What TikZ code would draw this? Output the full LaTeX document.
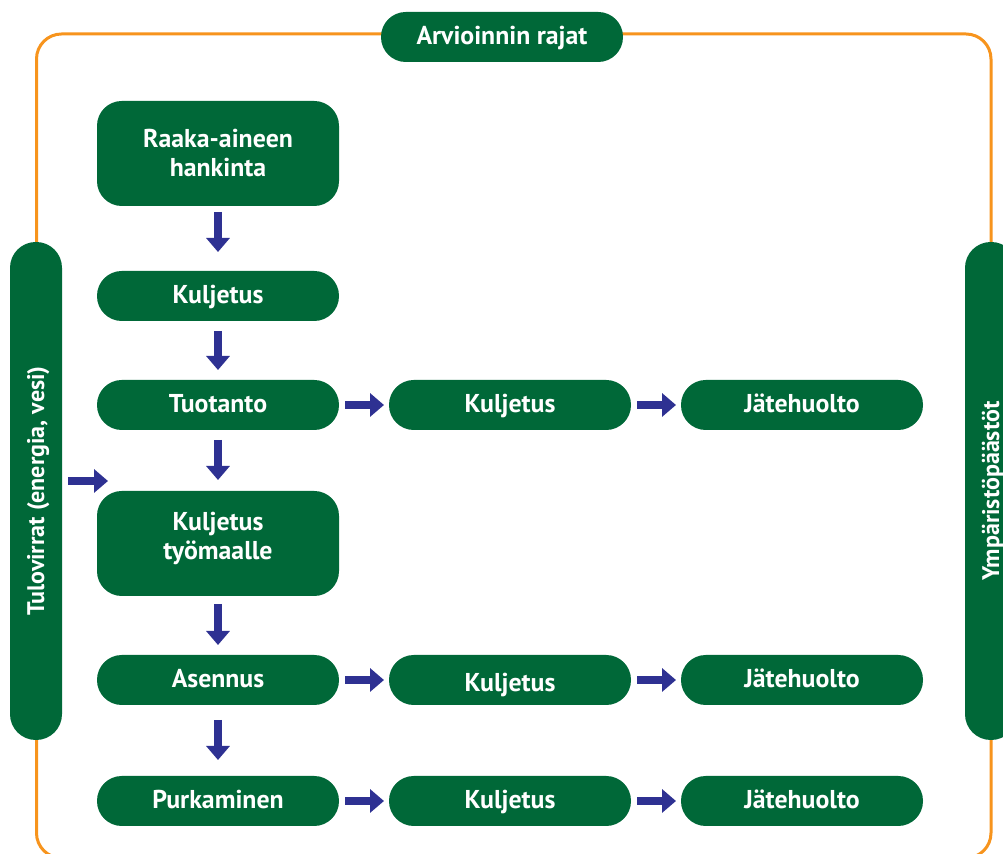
\documentclass[tikz,border=0pt]{standalone}
\usepackage{fontspec}
\setmainfont{PT Sans}
\usetikzlibrary{arrows.meta,positioning}

\definecolor{vihrea}{RGB}{0,104,56}
\definecolor{oranssi}{RGB}{247,148,29}
\definecolor{sininen}{RGB}{46,49,146}

\tikzset{
  vaihe/.style={rectangle, rounded corners=12.4pt, fill=vihrea, text=white,
    font=\bfseries\fontsize{12.9}{14.5}\selectfont, align=center,
    minimum width=121pt, minimum height=25pt, inner sep=0pt, outer sep=0pt,
    text height=9pt, text depth=1pt},
  isovaihe/.style={vaihe, minimum height=52.5pt, text height=, text depth=},
  sivupala/.style={vaihe, rotate=90, rounded corners=12.9pt,
    font=\bfseries\fontsize{12}{14.5}\selectfont,
    minimum width=249pt, minimum height=26pt},
  nuoli/.style={sininen, line width=4pt,
    -{Triangle[width=11.5pt,length=7pt]}},
}

\begin{document}
\begin{tikzpicture}[x=0.5pt, y=-0.5pt]
  \useasboundingbox (0,0) rectangle (1003,854);
  \clip (0,0) rectangle (1003,854);

  % arvioinnin raja
  \draw[oranssi, line width=1.5pt, rounded corners=12.5pt]
        (36.5,34) rectangle (991,858);
  \node[vaihe] (rajat) at (502,37) {Arvioinnin rajat};
  \node[sivupala] (tulo)  at (36,491)  {Tulovirrat (energia, vesi)};
  \node[sivupala] (paasto) at (991,491) {Ympäristöpäästöt};

  % elinkaaren vaiheet
  \node[isovaihe] (raaka)               at (218,153.5)   {Raaka-aineen\\hankinta};
  \node[vaihe]    (kulj1)    [below=32.5pt of raaka]    {Kuljetus};
  \node[vaihe]    (tuotanto) [below=29.5pt of kulj1]    {Tuotanto};
  \node[isovaihe, text depth=7.5pt] (tyomaa) [below=30.5pt of tuotanto] {Kuljetus\\työmaalle};
  \node[vaihe]    (asennus)  [below=29.5pt of tyomaa]   {Asennus};
  \node[vaihe]    (purku)    [below=35.5pt of asennus]  {Purkaminen};

  \node[vaihe] (kulj2) [right=25pt of tuotanto] {Kuljetus};
  \node[vaihe] (jate1) [right=25pt of kulj2]    {Jätehuolto};
  \node[vaihe, text height=12pt, text depth=0pt] (kulj3) [right=25pt of asennus] {Kuljetus};
  \node[vaihe] (jate2) [right=25pt of kulj3]    {Jätehuolto};
  \node[vaihe] (kulj4) [right=25pt of purku]    {Kuljetus};
  \node[vaihe] (jate3) [right=25pt of kulj4]    {Jätehuolto};

  \coordinate (tulokohde) at (108,481);

  % nuolet alaspäin
  \draw[nuoli, shorten <=3pt, shorten >=9.5pt] (raaka) -- (kulj1);
  \draw[nuoli, shorten <=5pt, shorten >=5pt]   (kulj1) -- (tuotanto);
  \draw[nuoli, shorten <=5pt, shorten >=5.5pt] (tuotanto) -- (tyomaa);
  \draw[nuoli, shorten <=4pt, shorten >=5pt]   (tyomaa) -- (asennus);
  \draw[nuoli, shorten <=7.5pt, shorten >=8pt] (asennus) -- (purku);
  % nuolet oikealle
  \draw[nuoli, shorten <=3pt, shorten >=2.5pt] (tuotanto) -- (kulj2);
  \draw[nuoli, shorten <=3pt, shorten >=2.5pt] (kulj2) -- (jate1);
  \draw[nuoli, shorten <=3pt, shorten >=2.5pt] (asennus) -- (kulj3);
  \draw[nuoli, shorten <=3pt, shorten >=2.5pt] (kulj3) -- (jate2);
  \draw[nuoli, shorten <=3pt, shorten >=2.5pt] (purku) -- (kulj4);
  \draw[nuoli, shorten <=3pt, shorten >=2.5pt] (kulj4) -- (jate3);
  \draw[nuoli, shorten <=3pt] (tulo.south |- tulokohde) -- (tulokohde);
\end{tikzpicture}
\end{document}
